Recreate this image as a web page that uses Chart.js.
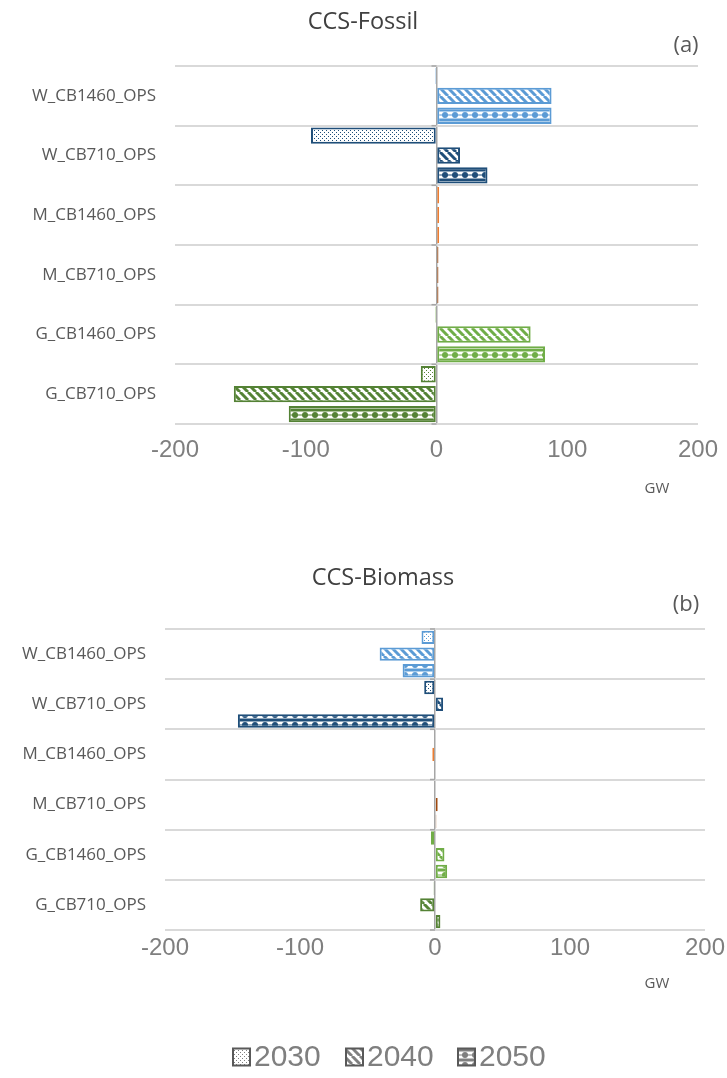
<!DOCTYPE html>
<html>
<head>
<meta charset="utf-8">
<script src="https://cdn.jsdelivr.net/npm/chart.js@4"></script>
<style>
  html, body { margin: 0; padding: 0; background: #fff; }
  body { width: 727px; height: 1078px; position: relative; overflow: hidden; }
  canvas { position: absolute; left: 0; }
  #fossil { top: 0; }
  #biomass { top: 520px; }
</style>
</head>
<body>
<canvas id="fossil" width="727" height="520"></canvas>
<canvas id="biomass" width="727" height="558"></canvas>
<script>
// Scenarios (top to bottom) and the three milestone years
const categories = ['W_CB1460_OPS', 'W_CB710_OPS', 'M_CB1460_OPS', 'M_CB710_OPS', 'G_CB1460_OPS', 'G_CB710_OPS'];
const years = ['2030', '2040', '2050'];
const xTicks = [-200, -100, 0, 100, 200];

// CCS-Fossil capacity change (GW)
const fossil2030 = [-1, -96, 2, 1.5, -1, -12];
const fossil2040 = [88, 18, 2, 1.5, 72, -155];
const fossil2050 = [88, 39, 2, 1.5, 83, -113];

// CCS-Biomass capacity change (GW)
const biomass2030 = [-10, -8, 0, 0, -3, -1];
const biomass2040 = [-41, 6, -2, 2, 7, -11];
const biomass2050 = [-24, -146, 0, 1, 9, 4];

// one colour per scenario
const scenarioColors = ['#5B9BD5', '#1F4E79', '#ED7D31', '#9E480E', '#70AD47', '#548235'];
const patternKinds = ['dots', 'diag', 'beads'];

const GRID = '#D9D9D9';
const AXIS = '#A6A6A6';
const TEXT = '#595959';
const TICK_TEXT = '#7F7F7F';

function makePattern(color, kind) {
  const c = document.createElement('canvas');
  const g = c.getContext('2d');
  if (kind === 'dots') {
    c.width = c.height = 4;
    g.fillStyle = '#fff'; g.fillRect(0, 0, 4, 4);
    g.fillStyle = color;
    g.fillRect(0, 0, 1, 1); g.fillRect(2, 2, 1, 1);
  } else if (kind === 'diag') {
    c.width = c.height = 8;
    g.fillStyle = '#fff'; g.fillRect(0, 0, 8, 8);
    g.strokeStyle = color; g.lineWidth = 3;
    for (const x0 of [-8, 0, 8]) {
      g.beginPath(); g.moveTo(x0, 0); g.lineTo(x0 + 8, 8); g.stroke();
    }
  } else {
    c.width = c.height = 10;
    g.fillStyle = '#fff'; g.fillRect(0, 0, 10, 10);
    g.fillStyle = color;
    g.fillRect(0, 4.5, 10, 1);
    g.beginPath(); g.arc(5, 5, 3, 0, Math.PI * 2); g.fill();
    g.fillRect(0, 0, 10, 1.5);
    g.fillRect(0, 8.5, 10, 1.5);
  }
  return g.createPattern(c, 'repeat');
}

function buildDatasets(series, barPct) {
  return years.map((y, i) => ({
    label: y,
    data: series[i],
    backgroundColor: scenarioColors.map(col => makePattern(col, patternKinds[i])),
    borderColor: scenarioColors,
    borderWidth: 2,
    borderSkipped: false,
    categoryPercentage: 1,
    barPercentage: barPct
  }));
}

// titles, panel letter and unit label
function textPlugin(title, titleX, letter, titleY, letterY, unitY) {
  return {
    id: 'panelText',
    afterDraw(chart) {
      const ctx = chart.ctx;
      ctx.save();
      ctx.textAlign = 'center';
      ctx.textBaseline = 'middle';
      ctx.fillStyle = '#404040';
      ctx.font = '23.5px "Open Sans"';
      ctx.fillText(title, titleX, titleY);
      ctx.fillStyle = TEXT;
      ctx.font = '22px "Open Sans"';
      ctx.fillText(letter, 686, letterY);
      ctx.font = '15px "Open Sans"';
      ctx.fillText('GW', 657, unitY);
      ctx.restore();
    }
  };
}

// short tick marks on the vertical axis line at x = 0
const zeroTicks = {
  id: 'zeroTicks',
  afterDraw(chart) {
    const xs = chart.scales.x, ys = chart.scales.y;
    const x0 = xs.getPixelForValue(0);
    const n = ys.ticks.length;
    const step = (ys.bottom - ys.top) / n;
    const ctx = chart.ctx;
    ctx.save();
    ctx.strokeStyle = AXIS;
    ctx.lineWidth = 1.5;
    for (let i = 0; i <= n; i++) {
      const y = ys.top + i * step;
      ctx.beginPath(); ctx.moveTo(x0 - 5, y); ctx.lineTo(x0, y); ctx.stroke();
    }
    ctx.restore();
  }
};

// legend with patterned swatches
const legendPlugin = {
  id: 'yearLegend',
  afterDraw(chart) {
    const ctx = chart.ctx;
    const cy = 537;
    const starts = [233, 346, 458];
    ctx.save();
    ctx.font = '30px "Liberation Sans"';
    ctx.textBaseline = 'middle';
    ctx.textAlign = 'left';
    years.forEach((y, i) => {
      const x = starts[i];
      ctx.fillStyle = makePattern('#7F7F7F', patternKinds[i]);
      ctx.fillRect(x, cy - 8.5, 17, 17);
      ctx.strokeStyle = '#595959';
      ctx.lineWidth = 2;
      ctx.strokeRect(x, cy - 8.5, 17, 17);
      ctx.fillStyle = TICK_TEXT;
      ctx.fillText(y, x + 21, cy + 1);
    });
    ctx.restore();
  }
};

function makeChart(id, series, cfg) {
  return new Chart(document.getElementById(id), {
    type: 'bar',
    data: { labels: categories, datasets: buildDatasets(series, cfg.barPct) },
    options: {
      indexAxis: 'y',
      responsive: false,
      animation: false,
      events: [],
      layout: { padding: { left: 0, right: cfg.right, top: cfg.top, bottom: 0 } },
      plugins: { legend: { display: false }, tooltip: { enabled: false } },
      scales: {
        x: {
          min: xTicks[0], max: xTicks[xTicks.length - 1],
          afterBuildTicks: s => { s.ticks = xTicks.map(v => ({ value: v })); },
          ticks: { font: { family: 'Liberation Sans', size: 24 }, color: TICK_TEXT, padding: cfg.tickPad, maxRotation: 0 },
          grid: {
            drawTicks: false,
            lineWidth: 1.5,
            color: c => (c.tick && c.tick.value === 0) ? AXIS : 'rgba(0,0,0,0)'
          },
          border: { display: false },
          afterFit: s => {
            s.height = cfg.xHeight;
            s.paddingLeft = 0;
            s.paddingRight = 0;
          }
        },
        y: {
          grid: { color: GRID, lineWidth: 2, drawTicks: false, offset: true },
          border: { display: false },
          ticks: { font: { family: 'Open Sans', size: 17 }, color: TEXT, padding: 19 },
          afterFit: s => { s.width = cfg.left; }
        }
      }
    },
    plugins: cfg.plugins
  });
}

makeChart('fossil', [fossil2030, fossil2040, fossil2050], {
  barPct: 0.82, left: 175, right: 29, top: 66, xHeight: 96, tickPad: 12,
  plugins: [textPlugin('CCS-Fossil', 363, '(a)', 22, 46, 489), zeroTicks]
});

makeChart('biomass', [biomass2030, biomass2040, biomass2050], {
  barPct: 0.8, left: 165, right: 22, top: 109, xHeight: 148, tickPad: 4,
  plugins: [textPlugin('CCS-Biomass', 383, '(b)', 58, 85, 464), zeroTicks, legendPlugin]
});
</script>
</body>
</html>
